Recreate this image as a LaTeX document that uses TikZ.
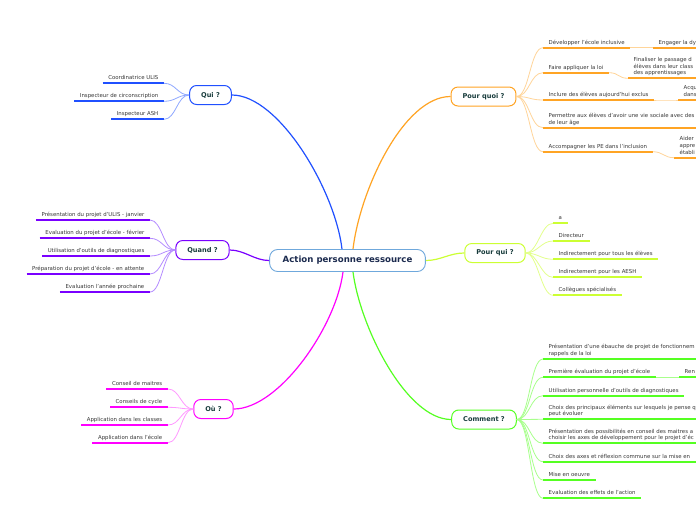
\documentclass[tikz,border=0pt]{standalone}
\usepackage{fontspec}
\setmainfont{DejaVu Sans}
\usepackage{xcolor}
\usetikzlibrary{positioning}
\definecolor{centreBorder}{HTML}{6FA8DC}
\definecolor{centreText}{HTML}{1B2A4E}
\definecolor{topicText}{HTML}{173B3B}
\definecolor{leafText}{HTML}{383838}
\definecolor{quiLine}{HTML}{2050FF}
\definecolor{quiLight}{HTML}{8FA8FF}
\definecolor{quandLine}{HTML}{7A00FF}
\definecolor{quandLight}{HTML}{B58CFF}
\definecolor{ouLine}{HTML}{FF00FF}
\definecolor{ouLight}{HTML}{FF99FF}
\definecolor{pquoiLine}{HTML}{FFA424}
\definecolor{pquoiLight}{HTML}{FFD59A}
\definecolor{pquiLine}{HTML}{CCFF33}
\definecolor{pquiLight}{HTML}{E3FF8C}
\definecolor{commentLine}{HTML}{55FF22}
\definecolor{commentLight}{HTML}{A8FF8C}

\tikzset{
  centre/.style={rounded corners=8pt, draw=centreBorder, fill=white, line width=0.9pt,
    text=centreText, font=\fontsize{8.6}{10}\selectfont\bfseries,
    minimum height=22pt, inner xsep=13pt},
  topic/.style={rounded corners=7pt, fill=white, line width=1pt, text=topicText,
    font=\fontsize{6.6}{8}\selectfont\bfseries, minimum height=19pt, inner xsep=11.5pt},
  leaf/.style={text=leafText, font=\fontsize{5.4}{6.8}\selectfont,
    inner xsep=5.5pt, inner ysep=2pt, text depth=1.3pt},
  leafL/.style={leaf, anchor=south east, align=right},
  leafR/.style={leaf, anchor=south west, align=left},
  uline/.style={line width=1.7pt},
  twig/.style={line width=0.8pt},
  branch/.style={line width=1.2pt},
}

\begin{document}
\begin{tikzpicture}[x=1pt, y=-1pt]
  \useasboundingbox[fill=white] (0,0) rectangle (696,520);

  % centre and topics
  \node[centre] (action) at (347.5,260.5) {Action personne ressource};
  \node[topic, draw=quiLine] (qui) at (210.5,95) {Qui ?};
  \node[topic, draw=quandLine] (quand) at (202.5,250) {Quand ?};
  \node[topic, draw=ouLine] (ou) at (213.5,409) {Où ?};
  \node[topic, draw=pquoiLine] (pquoi) at (483.5,96.5) {Pour quoi ?};
  \node[topic, draw=pquiLine] (pqui) at (495,253) {Pour qui ?};
  \node[topic, draw=commentLine] (comment) at (484,419.5) {Comment ?};

  % main branches
  \draw[branch, quiLine] ([xshift=-5.5pt]action.north) .. controls +(-7,-59) and +(47,0) .. (qui.east);
  \draw[branch, quandLine] (action.west) .. controls +(-15,0) and +(15,0) .. (quand.east);
  \draw[branch, ouLine] ([xshift=-4.5pt]action.south) .. controls +(-7,55) and +(45,0) .. (ou.east);
  \draw[branch, pquoiLine] ([xshift=5.5pt]action.north) .. controls +(7,-59) and +(-47,0) .. (pquoi.west);
  \draw[branch, pquiLine] (action.east) .. controls +(15,0) and +(-15,0) .. (pqui.west);
  \draw[branch, commentLine] ([xshift=5.5pt]action.south) .. controls +(7,55) and +(-45,0) .. (comment.west);

  % Qui ?
  \foreach \n/\y/\t in {1/83.3/Coordinatrice ULIS, 2/101.3/Inspecteur de circonscription,
      3/119.3/Inspecteur ASH} {
    \node[leafL] (qui\n) at (164,\y) {\t};
    \draw[uline, quiLine] (qui\n.south west) -- (qui\n.south east);
    \draw[twig, quiLight] (qui.west) .. controls +(-12,0) and +(12,0) .. (qui\n.south east);
  }

  % Quand ?
  \foreach \n/\y/\t in {1/220/Présentation du projet d'ULIS - janvier,
      2/238.3/Evaluation du projet d'école - février,
      3/256/Utilisation d'outils de diagnostiques,
      4/274/Préparation du projet d'école - en attente,
      5/292/Evaluation l'année prochaine} {
    \node[leafL] (quand\n) at (150,\y) {\t};
    \draw[uline, quandLine] (quand\n.south west) -- (quand\n.south east);
    \draw[twig, quandLight] (quand.west) .. controls +(-12,0) and +(12,0) .. (quand\n.south east);
  }

  % Où ?
  \foreach \n/\y/\t in {1/389/Conseil de maitres, 2/407.3/Conseils de cycle,
      3/425/Application dans les classes, 4/442.7/Application dans l'école} {
    \node[leafL] (ou\n) at (168,\y) {\t};
    \draw[uline, ouLine] (ou\n.south west) -- (ou\n.south east);
    \draw[twig, ouLight] (ou.west) .. controls +(-12,0) and +(12,0) .. (ou\n.south east);
  }

  % Pour quoi ?
  \node[leafR] (pquoi1) at (543,47.7) {Développer l'école inclusive};
  \node[leafR] (pquoi2) at (543,72.7) {Faire appliquer la loi};
  \node[leafR] (pquoi3) at (543,100) {Inclure des élèves aujourd'hui exclus};
  \node[leafR] (pquoi4) at (543,127.7) {Permettre aux élèves d'avoir une vie sociale avec des\\de leur âge};
  \node[leafR] (pquoi5) at (543,151.7) {Accompagner les PE dans l'inclusion};
  \foreach \n in {1,...,5} {
    \draw[uline, pquoiLine] (pquoi\n.south west) -- (pquoi\n.south east);
    \draw[twig, pquoiLight] (pquoi.east) .. controls +(13,0) and +(-13,0) .. (pquoi\n.south west);
  }
  \node[leafR] (pquoi1b) at (653,47.7) {Engager la dy};
  \node[leafR] (pquoi2b) at (628,78.3) {Finaliser le passage d\\élèves dans leur class\\des apprentissages};
  \node[leafR] (pquoi3b) at (678,100) {Acqu\\dans};
  \node[leafR] (pquoi5b) at (674,157.7) {Aider\\appre\\établi};
  \foreach \n in {1,2,3,5} {
    \draw[uline, pquoiLine] (pquoi\n b.south west) -- (pquoi\n b.south east);
    \draw[twig, pquoiLight] (pquoi\n.south east) .. controls +(10,0) and +(-10,0) .. (pquoi\n b.south west);
  }

  % Pour qui ?
  \foreach \n/\y/\t in {1/223.3/a, 2/241/Directeur, 3/259.3/Indirectement pour tous les élèves,
      4/277.3/Indirectement pour les AESH, 5/295.3/Collègues spécialisés} {
    \node[leafR] (pqui\n) at (553,\y) {\t};
    \draw[uline, pquiLine] (pqui\n.south west) -- (pqui\n.south east);
    \draw[twig, pquiLight] (pqui.east) .. controls +(12,0) and +(-12,0) .. (pqui\n.south west);
  }

  % Comment ?
  \node[leafR] (com1) at (543,359) {Présentation d'une ébauche de projet de fonctionnem\\rappels de la loi};
  \node[leafR] (com2) at (543,377.3) {Première évaluation du projet d'école};
  \node[leafR] (com3) at (543,395.7) {Utilisation personnelle d'outils de diagnostiques};
  \node[leafR] (com4) at (543,419.3) {Choix des principaux éléments sur lesquels je pense q\\peut évoluer};
  \node[leafR] (com5) at (543,443.3) {Présentation des possibilités en conseil des maitres a\\choisir les axes de développement pour le projet d'éc};
  \node[leafR] (com6) at (543,461.7) {Choix des axes et réflexion commune sur la mise en};
  \node[leafR] (com7) at (543,480) {Mise en oeuvre};
  \node[leafR] (com8) at (543,498.3) {Evaluation des effets de l'action};
  \foreach \n in {1,...,8} {
    \draw[uline, commentLine] (com\n.south west) -- (com\n.south east);
    \draw[twig, commentLight] (comment.east) .. controls +(13,0) and +(-13,0) .. (com\n.south west);
  }
  \node[leafR] (com2b) at (679,377.3) {Ren};
  \draw[uline, commentLine] (com2b.south west) -- (com2b.south east);
  \draw[twig, commentLight] (com2.south east) -- (com2b.south west);
\end{tikzpicture}
\end{document}
